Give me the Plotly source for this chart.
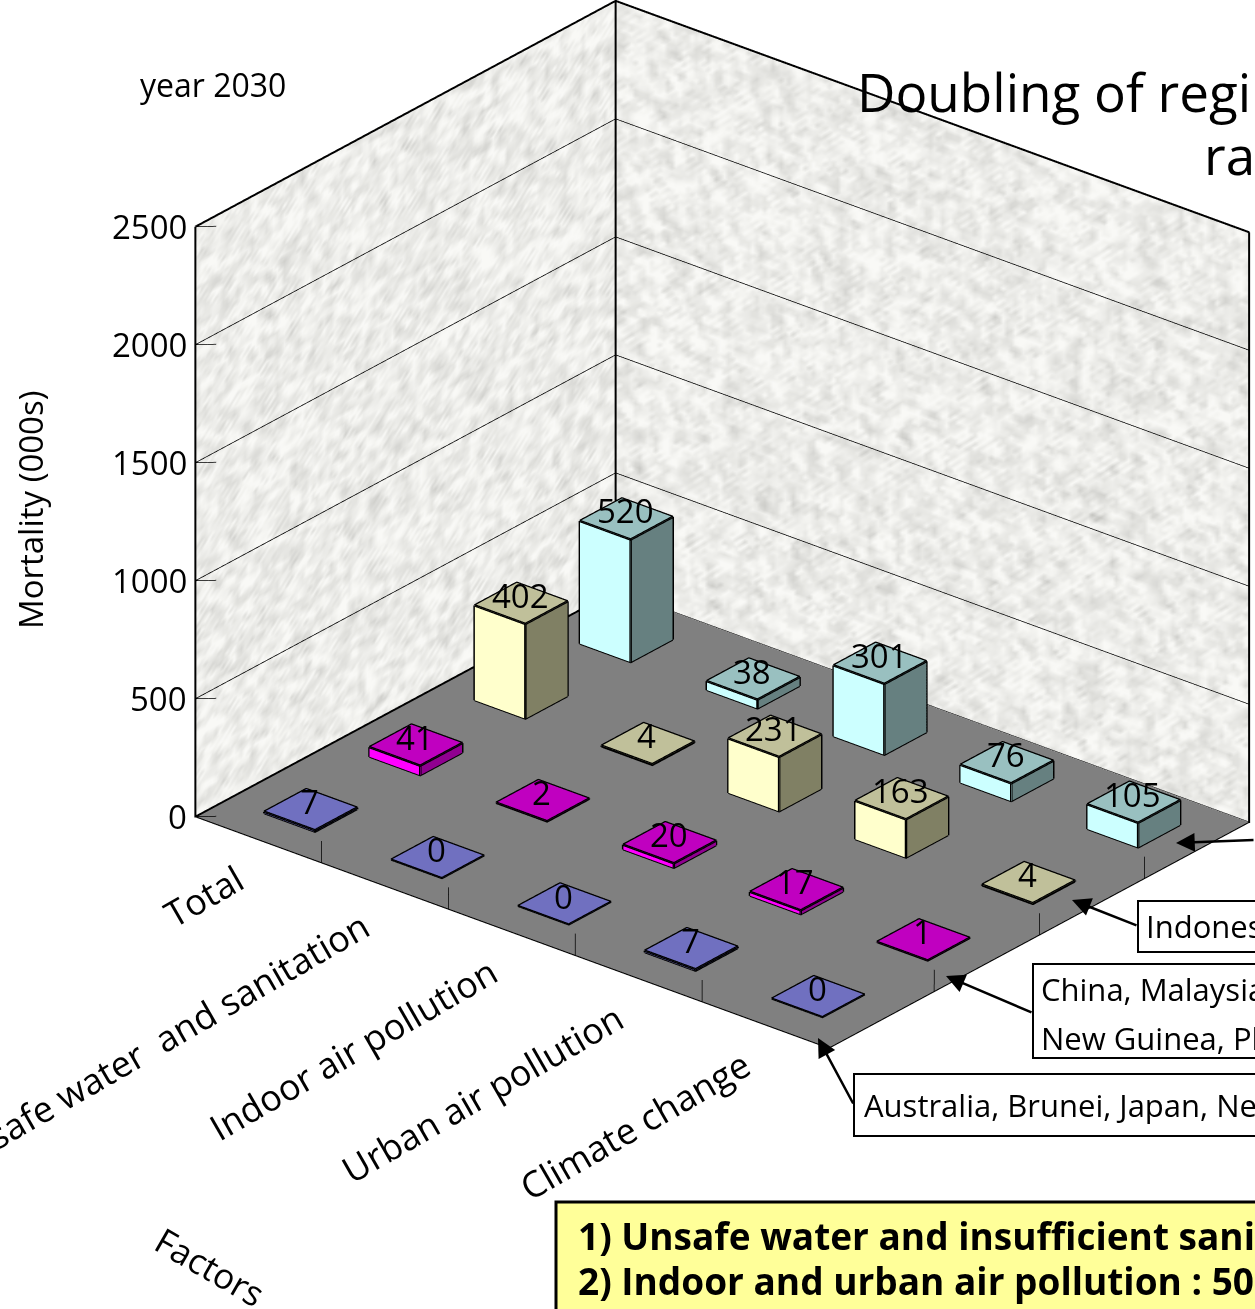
import math
import numpy as np
import plotly.graph_objects as go

W, H = 1255, 1309

FACTORS = ["Total", "Unsafe water  and sanitation", "Indoor air pollution",
           "Urban air pollution", "Climate change"]
REGIONS = ["High income", "Middle income", "Indonesia group", "Other"]
HIGH_INCOME = [7, 0, 0, 7, 0]
MIDDLE_INCOME = [41, 2, 20, 17, 1]
INDONESIA_GROUP = [402, 4, 231, 163, 4]
OTHER = [520, 38, 301, 76, 105]
Z_TICKS = [0, 500, 1000, 1500, 2000, 2500]

FONT = "Open Sans"
SERIES = [
    (HIGH_INCOME, "#7070c0", "#9a9aff", "#4c4c80"),
    (MIDDLE_INCOME, "#c000c0", "#ff00ff", "#900090"),
    (INDONESIA_GROUP, "#c0c09a", "#ffffcc", "#808064"),
    (OTHER, "#99c0c0", "#ccffff", "#668080"),
]
HALF = 0.2
FLOOR_Z = -3
ZMAX = 2500
NX, NY = len(FACTORS), len(SERIES)

# orthographic view of the box
AZ = math.radians(-50.5)
EL = math.radians(26.3)
DIST = 2.17
PX_PER_UNIT = 653.0
SHIFT_RIGHT, SHIFT_UP = 94.5, 130.5

view = np.array([math.cos(EL) * math.cos(AZ), math.cos(EL) * math.sin(AZ), math.sin(EL)])
right = np.array([-math.sin(AZ), math.cos(AZ), 0.0])
up = np.array([-math.sin(EL) * math.cos(AZ), -math.sin(EL) * math.sin(AZ), math.cos(EL)])
center = -(SHIFT_RIGHT / PX_PER_UNIT) * right - (SHIFT_UP / PX_PER_UNIT) * up
eye = center + DIST * view

FLAT = dict(ambient=1, diffuse=0, specular=0, fresnel=0, roughness=1)


def stone(nu, nv, seed):
    """Soft speckle used as the wall fill."""
    g = np.random.default_rng(seed).normal(size=(nv + 6, nu + 6))
    g = (g + np.roll(g, 1, 0) + np.roll(g, -1, 0) + np.roll(g, 1, 1) + np.roll(g, -1, 1)) / 5
    g = g[3:-3, 3:-3]
    return np.clip(0.76 + 0.17 * g / g.std(), 0, 1).round(2)


def wall(px, py, nu, nv, seed):
    """Grid mesh between two floor points, rising from the floor to the top of the z axis."""
    us = np.linspace(0, 1, nu)
    vs = np.linspace(0, 1, nv)
    uu, vv = np.meshgrid(us, vs)
    xs = px[0] + (px[1] - px[0]) * uu
    ys = py[0] + (py[1] - py[0]) * uu
    zs = ZMAX * vv
    idx = np.arange(nu * nv).reshape(nv, nu)
    a, b, c, d = idx[:-1, :-1].ravel(), idx[:-1, 1:].ravel(), idx[1:, 1:].ravel(), idx[1:, :-1].ravel()
    return go.Mesh3d(
        x=xs.ravel().round(3), y=ys.ravel().round(3), z=zs.ravel().round(0),
        i=np.r_[a, a], j=np.r_[b, c], k=np.r_[c, d],
        intensity=stone(nu, nv, seed).ravel(), cmin=0, cmax=1,
        colorscale=[[0, "#c4c4c0"], [1, "#f9f9f6"]], showscale=False,
        lighting=FLAT, hoverinfo="skip",
    )


def polyline(points, width, color="black"):
    xs, ys, zs = [], [], []
    for seg in points:
        for p in seg:
            xs.append(p[0]); ys.append(p[1]); zs.append(p[2])
        xs.append(None); ys.append(None); zs.append(None)
    return go.Scatter3d(x=xs, y=ys, z=zs, mode="lines", line=dict(color=color, width=width),
                        hoverinfo="skip", showlegend=False)


fig = go.Figure()

# walls and floor
fig.add_trace(wall((0, 0), (0, NY), 118, 150, 3))
fig.add_trace(wall((0, NX), (NY, NY), 158, 150, 8))
fig.add_trace(go.Mesh3d(x=[0, NX, NX, 0], y=[0, 0, NY, NY], z=[FLOOR_Z] * 4,
                        i=[0, 0], j=[1, 2], k=[2, 3], color="#808080",
                        lighting=FLAT, hoverinfo="skip"))

# gridlines along both walls, lifted just off the wall surfaces
eps = 0.006
grid = [[(eps, 0, z), (eps, NY - eps, z), (NX, NY - eps, z)] for z in Z_TICKS[1:-1]]
fig.add_trace(polyline(grid, 1.5))

# short tick marks on the wall and along the floor edges
marks = [[(eps, 0, z), (0.10, 0.085, z)] for z in Z_TICKS]
marks += [[(c, 0, 0), (c - 0.19, 0.23, 0)] for c in range(1, NX)]
marks += [[(NX, r, 0), (NX - 0.19, r + 0.23, 0)] for r in range(1, NY)]
fig.add_trace(polyline(marks, 1.5))

# box outline
fig.add_trace(polyline([[(eps, 0, ZMAX), (eps, NY - eps, ZMAX), (NX, NY - eps, ZMAX)],
                        [(eps, 0, FLOOR_Z), (eps, 0, ZMAX)],
                        [(eps, NY - eps, FLOOR_Z), (eps, NY - eps, ZMAX)],
                        [(NX, NY - eps, FLOOR_Z), (NX, NY - eps, ZMAX)],
                        [(eps, 0, 0), (eps, NY - eps, 0)]], 4))
fig.add_trace(polyline([[(0, 0, 0), (NX, 0, 0), (NX, NY, 0), (eps, NY, 0)]], 2))

# bars
annotations3d = []
for r, (values, top, front, side) in enumerate(SERIES):
    vx, vy, vz, ii, jj, kk, colors, edges = [], [], [], [], [], [], [], []
    for c, v in enumerate(values):
        cx, cy = c + 0.5, r + 0.5
        x0, x1, y0, y1 = cx - HALF, cx + HALF, cy - HALF, cy + HALF
        n = len(vx)
        vx += [x0, x1, x1, x0, x0, x1, x1, x0]
        vy += [y0, y0, y1, y1, y0, y0, y1, y1]
        vz += [0, 0, 0, 0, v, v, v, v]
        quads = [((4, 5, 6, 7), top), ((0, 1, 5, 4), front), ((1, 2, 6, 5), side)]
        for q, col in quads:
            ii += [n + q[0], n + q[0]]
            jj += [n + q[1], n + q[2]]
            kk += [n + q[2], n + q[3]]
            colors += [col, col]
        edges += [
            [(x0, y0, v), (x1, y0, v), (x1, y1, v), (x0, y1, v), (x0, y0, v)],
            [(x0, y0, 0), (x0, y0, v)], [(x1, y0, 0), (x1, y0, v)], [(x1, y1, 0), (x1, y1, v)],
            [(x0, y0, 0), (x1, y0, 0), (x1, y1, 0)],
        ]
        annotations3d.append(dict(x=cx, y=cy, z=v, text=str(v), showarrow=False,
                                  xshift=-1, yshift=8,
                                  font=dict(family=FONT, size=33, color="black"),
                                  xanchor="center", yanchor="middle"))
    fig.add_trace(go.Mesh3d(x=vx, y=vy, z=vz, i=ii, j=jj, k=kk, facecolor=colors,
                            lighting=FLAT, hoverinfo="skip", name=REGIONS[r]))
    fig.add_trace(polyline(edges, 5))

# value axis labels
for z in Z_TICKS:
    annotations3d.append(dict(x=0, y=0, z=z, text=str(z), showarrow=False, xanchor="right",
                              yanchor="middle", xshift=-6,
                              font=dict(family=FONT, size=33, color="black")))

# factor labels, slanted along the front edge
for c, name in enumerate(FACTORS):
    annotations3d.append(dict(x=c + 0.5, y=0, z=0, text=name, showarrow=False, textangle=-30,
                              xanchor="right", yanchor="top", xshift=-4, yshift=-12,
                              font=dict(family=FONT, size=36, color="black")))

hidden = dict(visible=False, showbackground=False, showgrid=False, zeroline=False,
              showspikes=False, showticklabels=False, title="")

fig.update_layout(
    width=W, height=H, margin=dict(l=0, r=0, t=0, b=0), paper_bgcolor="white",
    showlegend=False,
    scene=dict(
        domain=dict(x=[0, 1], y=[0, 1]),
        xaxis=dict(range=[-0.02, NX + 0.02], **hidden),
        yaxis=dict(range=[-0.02, NY + 0.02], **hidden),
        zaxis=dict(range=[-6, ZMAX + 10], **hidden),
        aspectmode="manual", aspectratio=dict(x=1.266, y=1.021, z=1.012),
        camera=dict(eye=dict(x=eye[0], y=eye[1], z=eye[2]),
                    center=dict(x=center[0], y=center[1], z=center[2]),
                    up=dict(x=0, y=0, z=1), projection=dict(type="orthographic")),
        annotations=annotations3d,
    ),
)


def px(x):
    return x / W


def py(y):
    return 1 - y / H


def text(x, y, s, size, anchor="left", angle=0, bold=False):
    label = f"<b>{s}</b>" if bold else s
    fig.add_annotation(xref="paper", yref="paper", x=px(x), y=py(y), text=label, showarrow=False,
                       xanchor=anchor, yanchor="middle", textangle=angle,
                       font=dict(family=FONT, size=size, color="black"))


def arrow(x0, y0, x1, y1):
    fig.add_annotation(xref="paper", yref="paper", axref="pixel", ayref="pixel",
                       x=px(x1), y=py(y1), ax=x0 - x1, ay=y0 - y1, text="", showarrow=True,
                       arrowhead=2, arrowsize=1.5, arrowwidth=2.5, arrowcolor="black")


def box(x0, y0, y1, fill="white", width=2):
    fig.add_shape(type="rect", xref="paper", yref="paper", x0=px(x0), x1=1.1, y0=py(y0), y1=py(y1),
                  fillcolor=fill, line=dict(color="black", width=width), layer="above")


text(138, 84, "year 2030", 32)
text(855, 91, "Doubling of regi", 53)
text(1202, 154, "ra", 53)
text(30, 510, "Mortality (000s)", 33, anchor="center", angle=-90)
text(210, 1266, "Factors", 35, anchor="center", angle=30)

box(1138, 901, 952)
box(1033, 964, 1058)
box(854, 1074, 1136)
box(556, 1202, 1340, fill="#ffff99", width=3)
text(1144, 926, "Indones", 31)
text(1039, 989, "China, Malaysia", 31)
text(1039, 1038, "New Guinea, Phi", 31)
text(862, 1105, "Australia, Brunei, Japan, Ne", 31)
text(576, 1235, "1) Unsafe water and insufficient sani", 37, bold=True)
text(576, 1280, "2) Indoor and urban air pollution : 50", 37, bold=True)

arrow(1255, 840, 1176, 843)
arrow(1138, 926, 1072, 900)
arrow(1033, 1013, 946, 976)
arrow(854, 1105, 818, 1038)

fig.write_html("out.html", config=dict(displayModeBar=False))
